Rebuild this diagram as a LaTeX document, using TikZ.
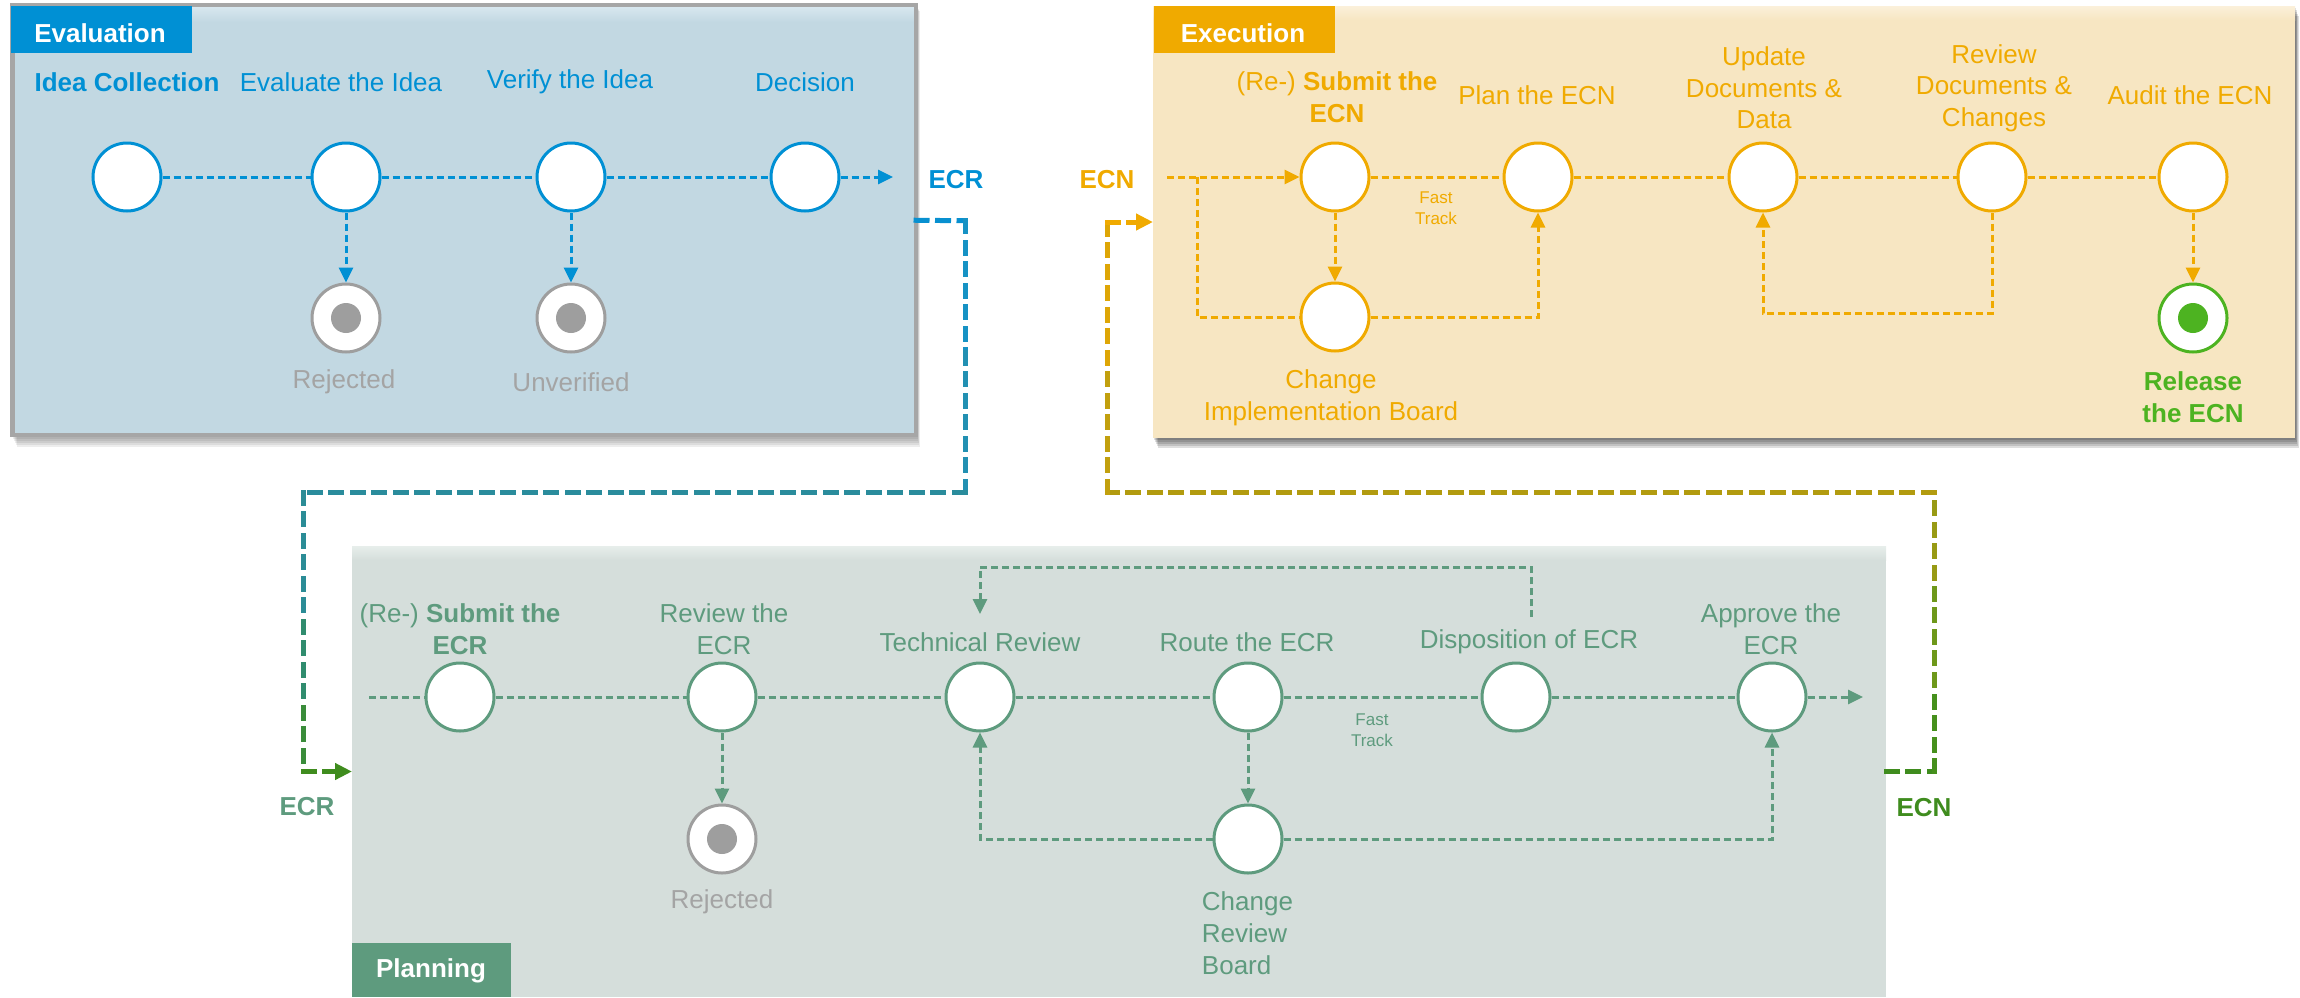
\documentclass[tikz,border=0pt]{standalone}
\usepackage{fontspec}
\setmainfont{Liberation Sans}
\usetikzlibrary{arrows.meta}
\definecolor{evblue}{RGB}{0,144,212}
\definecolor{evfill}{RGB}{194,216,226}
\definecolor{evtop}{RGB}{214,230,238}
\definecolor{evborder}{RGB}{166,166,166}
\definecolor{exor}{RGB}{240,170,0}
\definecolor{exfill}{RGB}{247,230,194}
\definecolor{extop}{RGB}{251,240,218}
\definecolor{plgreen}{RGB}{94,155,126}
\definecolor{plfill}{RGB}{213,222,219}
\definecolor{pltop}{RGB}{231,238,235}
\definecolor{endgray}{RGB}{158,158,158}
\definecolor{txtgray}{RGB}{164,164,164}
\definecolor{relgreen}{RGB}{77,179,33}
\definecolor{cgreen}{RGB}{63,140,30}
\definecolor{cteal}{RGB}{42,140,156}
\definecolor{colive}{RGB}{178,155,15}
\begin{document}
\begin{tikzpicture}[x=1pt,y=-1pt,
  lbl/.style={font=\fontsize{26}{31.7}\selectfont, align=center, inner sep=0pt},
  blbl/.style={lbl, font=\fontsize{26}{31.7}\selectfont\bfseries},
  small/.style={font=\fontsize{17}{21}\selectfont, align=center, inner sep=0pt},
  stage/.style={circle, minimum size=68pt, inner sep=0pt, fill=white, line width=3pt},
  evc/.style={stage, draw=evblue},
  exc/.style={stage, draw=exor},
  plc/.style={stage, draw=plgreen},
  endc/.style={stage, draw=endgray},
  dot/.style={circle, minimum size=30pt, inner sep=0pt},
  tabbox/.style={inner sep=0pt, outer sep=0pt, anchor=north west},
  tab/.style={font=\fontsize{26}{30}\selectfont\bfseries, text=white, inner sep=0pt},
  panel/.style={inner sep=0pt, outer sep=0pt, anchor=north west},
  flow/.style={line width=3pt, dash pattern=on 7pt off 4pt},
  tip/.style={-{Triangle[length=15pt,width=14pt]}},
  big/.style={line width=5pt, line cap=rect, dash pattern=on 11pt off 10.5pt},
  bigtip/.style={-{Triangle[length=17pt,width=16pt]}},
]
\useasboundingbox (0,0) rectangle (2300,997);

% ---------- shadows ----------
\foreach \s in {1,...,5} {
  \fill[black,opacity=0.13] (1153+\s,6+2*\s) rectangle (2295+0.8*\s,438+2*\s);
  \fill[black,opacity=0.07] (12+\s,6+\s) rectangle (917+0.6*\s,437+2*\s);
}

% ---------- panels ----------
\node[panel, draw=evborder, line width=4.5pt, fill=evfill, minimum width=903.5pt, minimum height=429.5pt] (evbox) at (12.5,5.5) {};
\shade[top color=evtop, bottom color=evfill] (14.75,7.75) rectangle (913.75,22);
\node[panel, fill=exfill, minimum width=1142pt, minimum height=432pt] (exbox) at (1153,6) {};
\shade[top color=extop, bottom color=exfill] (1153,6) rectangle (2295,20);
\node[panel, fill=plfill, minimum width=1534pt, minimum height=451pt] (plbox) at (352,546) {};
\shade[top color=pltop, bottom color=plfill] (352,546) rectangle (1886,560);

% ---------- tabs ----------
\node[tabbox, fill=evblue, minimum width=181pt, minimum height=47pt] (evtab) at (11,6) {};
\node[tab] (evtabtxt) at (100,33) {Evaluation};
\node[tabbox, fill=exor, minimum width=181pt, minimum height=47pt] (extab) at (1154,6) {};
\node[tab] (extabtxt) at (1243,33) {Execution};
\node[tabbox, fill=plgreen, minimum width=159pt, minimum height=54pt] (pltab) at (352,943) {};
\node[tab] (pltabtxt) at (431,971) {Planning};

% ---------- Evaluation ----------
\node[evc] (idea) at (127,177) {};
\node[evc] (evl) at (346,177) {};
\node[evc] (ver) at (571,177) {};
\node[evc] (dec) at (805,177) {};
\node[endc] (rej1) at (346,318) {};
\node[dot, fill=endgray] (rej1d) at (rej1) {};
\node[endc] (unv) at (571,318) {};
\node[dot, fill=endgray] (unvd) at (unv) {};
\coordinate (evout) at (893,177);

\node[blbl, text=evblue] (lidea) at (127,82) {Idea Collection};
\node[lbl, text=evblue] (levl) at (341,82) {Evaluate the Idea};
\node[lbl, text=evblue] (lver) at (570,82) {Verify the Idea};
\node[lbl, text=evblue] (ldec) at (805,82) {Decision};
\node[lbl, text=txtgray] (lrej1) at (344,382) {Rejected};
\node[lbl, text=txtgray] (lunv) at (571,382) {Unverified};
\node[blbl, text=evblue] (lecr1) at (956,180) {ECR};

\draw[flow, evblue] (idea.east) -- (evl.west);
\draw[flow, evblue] (evl.east) -- (ver.west);
\draw[flow, evblue] (ver.east) -- (dec.west);
\draw[flow, evblue, tip] (dec.east) -- (evout);
\draw[flow, evblue, tip] (evl.south) -- (rej1.north);
\draw[flow, evblue, tip] (ver.south) -- (unv.north);

% ---------- Execution ----------
\node[exc] (sub) at (1335,177) {};
\node[exc] (plan) at (1538,177) {};
\node[exc] (upd) at (1763,177) {};
\node[exc] (rev) at (1992,177) {};
\node[exc] (aud) at (2193,177) {};
\node[exc] (cib) at (1335,317) {};
\node[stage, draw=relgreen] (rel) at (2193,318) {};
\node[dot, fill=relgreen] (reld) at (rel) {};
\coordinate (exin) at (1167,177);
\coordinate (exbr) at (1197,177);

\node[lbl, text=exor] (lsub) at (1337,97.5) {(Re-) \textbf{Submit the}\\\textbf{ECN}};
\node[lbl, text=exor] (lplan) at (1537,95) {Plan the ECN};
\node[lbl, text=exor] (lupd) at (1764,88) {Update\\Documents \&\\Data};
\node[lbl, text=exor] (lrev) at (1994,88) {Review\\Documents \&\\Changes};
\node[lbl, text=exor] (laud) at (2190,95) {Audit the ECN};
\node[lbl, text=exor] (lcib) at (1331,397.5) {Change\\Implementation Board};
\node[blbl, text=relgreen] (lrel) at (2193,397.5) {Release\\the ECN};
\node[small, text=exor] (lft1) at (1436,208.5) {Fast\\Track};
\node[blbl, text=exor] (lecn1) at (1107,180) {ECN};

\draw[flow, exor, tip] (exin) -- (sub.west);
\draw[flow, exor] (exbr) |- (cib.west);
\draw[flow, exor, tip] (cib.east) -| (plan.south);
\draw[flow, exor, tip] (sub.south) -- (cib.north);
\draw[flow, exor] (sub.east) -- (plan.west);
\draw[flow, exor] (plan.east) -- (upd.west);
\draw[flow, exor] (upd.east) -- (rev.west);
\draw[flow, exor] (rev.east) -- (aud.west);
\draw[flow, exor, tip] (rev.south) -- ++(0,101) -| (upd.south);
\draw[flow, exor, tip] (aud.south) -- (rel.north);

% ---------- Planning ----------
\node[plc] (psub) at (460,697) {};
\node[plc] (prev) at (722,697) {};
\node[plc] (tech) at (980,697) {};
\node[plc] (route) at (1248,697) {};
\node[plc] (disp) at (1516,697) {};
\node[plc] (appr) at (1772,697) {};
\node[endc] (prej) at (722,839) {};
\node[dot, fill=endgray] (prejd) at (prej) {};
\node[plc] (crb) at (1248,839) {};
\coordinate (plin) at (369,697);
\coordinate (plout) at (1863,697);
\coordinate (dtop) at (1531,617);
\coordinate (lp) at (1531,567);
\coordinate (ttop) at (980,614);

\node[lbl, text=plgreen] (lpsub) at (460,629) {(Re-) \textbf{Submit the}\\\textbf{ECR}};
\node[lbl, text=plgreen] (lprev) at (724,629) {Review the\\ECR};
\node[lbl, text=plgreen] (ltech) at (980,642) {Technical Review};
\node[lbl, text=plgreen] (lroute) at (1247,642) {Route the ECR};
\node[lbl, text=plgreen] (ldisp) at (1529,642) {Disposition of ECR};
\node[lbl, text=plgreen] (lappr) at (1771,629) {Approve the\\ECR};
\node[lbl, text=txtgray] (lprej) at (722,902) {Rejected};
\node[lbl, text=plgreen, align=left] (lcrb) at (1247.5,933) {Change\\Review\\Board};
\node[small, text=plgreen] (lft2) at (1372,730.5) {Fast\\Track};
\node[blbl, text=plgreen] (lecr2) at (307,807) {ECR};
\node[blbl, text=cgreen] (lecn2) at (1924,808) {ECN};

\draw[flow, plgreen] (plin) -- (psub.west);
\draw[flow, plgreen] (psub.east) -- (prev.west);
\draw[flow, plgreen] (prev.east) -- (tech.west);
\draw[flow, plgreen] (tech.east) -- (route.west);
\draw[flow, plgreen] (route.east) -- (disp.west);
\draw[flow, plgreen] (disp.east) -- (appr.west);
\draw[flow, plgreen, tip] (appr.east) -- (plout);
\draw[flow, plgreen, tip] (prev.south) -- (prej.north);
\draw[flow, plgreen, tip] (route.south) -- (crb.north);
\draw[flow, plgreen, tip] (crb.west) -| (tech.south);
\draw[flow, plgreen, tip] (crb.east) -| (appr.south);
\draw[flow, plgreen, tip] (dtop) -- (lp) -| (ttop);

% ---------- ECR connector (Evaluation -> Planning) ----------
\coordinate (a1) at (965,220.75);
\coordinate (a2) at (965,352);
\coordinate (a3) at (965,492);
\coordinate (a4) at (303,492);
\coordinate (a5) at (303,621);
\coordinate (a6) at (303,707);
\coordinate (a7) at (303,771.5);
\draw[big, color={rgb,255:red,8;green,144;blue,208}] (evbox.east) -- (a1);
\draw[big, color={rgb,255:red,22;green,146;blue,196}] (a1) -- (a2);
\draw[big, color={rgb,255:red,34;green,144;blue,178}] (a2) -- (a3);
\draw[big, cteal] (a3) -- (a4);
\draw[big, color={rgb,255:red,43;green,140;blue,150}] (a4) -- (a5);
\draw[big, color={rgb,255:red,48;green,140;blue,110}] (a5) -- (a6);
\draw[big, color={rgb,255:red,58;green,140;blue,58}] (a6) -- (a7);
\draw[big, cgreen, bigtip] (a7) -- (plbox.west);

% ---------- ECN connector (Planning -> Execution) ----------
\coordinate (b1) at (1934,771.5);
\coordinate (b2) at (1934,685);
\coordinate (b3) at (1934,578);
\coordinate (b4) at (1934,492);
\coordinate (b5) at (1107,492);
\coordinate (b6) at (1107,363);
\coordinate (b7) at (1107,222);
\draw[big, cgreen] (plbox.east) -- (b1);
\draw[big, color={rgb,255:red,70;green,144;blue,28}] (b1) -- (b2);
\draw[big, color={rgb,255:red,110;green,152;blue,26}] (b2) -- (b3);
\draw[big, color={rgb,255:red,152;green,154;blue,20}] (b3) -- (b4);
\draw[big, colive] (b4) -- (b5);
\draw[big, color={rgb,255:red,194;green,160;blue,14}] (b5) -- (b6);
\draw[big, color={rgb,255:red,222;green,166;blue,6}] (b6) -- (b7);
\draw[big, exor, bigtip] (b7) -- (exbox.west);
\end{tikzpicture}
\end{document}
